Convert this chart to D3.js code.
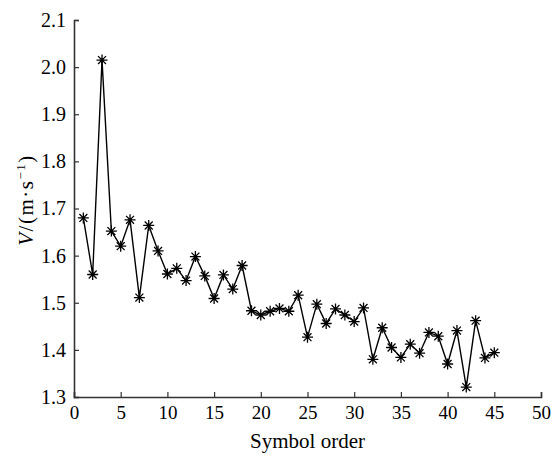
<!DOCTYPE html>
<html>
<head>
<meta charset="utf-8">
<script src="https://cdn.jsdelivr.net/npm/d3@7"></script>
<style>
  body { margin: 0; background: #fff; }
  text { font-family: "Liberation Serif", "Times New Roman", serif; fill: #000; }
</style>
</head>
<body>
<svg id="chart" width="557" height="458"></svg>
<script>
// symbol order 1..45 and measured velocity
var order = d3.range(1, 46);
var velocity = [1.680, 1.560, 2.015, 1.652, 1.620, 1.676, 1.511, 1.664, 1.610, 1.561,
                1.573, 1.547, 1.598, 1.557, 1.509, 1.559, 1.529, 1.579, 1.483, 1.474,
                1.482, 1.488, 1.482, 1.516, 1.427, 1.497, 1.456, 1.487, 1.474, 1.460,
                1.489, 1.380, 1.447, 1.405, 1.384, 1.412, 1.393, 1.437, 1.429, 1.370,
                1.441, 1.321, 1.462, 1.383, 1.394];
var xTicks = [0, 5, 10, 15, 20, 25, 30, 35, 40, 45, 50];
var yTicks = [1.3, 1.4, 1.5, 1.6, 1.7, 1.8, 1.9, 2.0, 2.1];

var margin = {left: 74, right: 16, top: 20, bottom: 61};
var width = 557, height = 458;

var svg = d3.select("#chart");

var x = d3.scaleLinear()
		.domain([0, 50])
		.range([margin.left, width - margin.right]);

var y = d3.scaleLinear()
		.domain([1.3, 2.1])
		.range([height - margin.bottom, margin.top]);

// axes, ticks pointing inward
var xAxis = svg.append("g")
		.attr("transform", "translate(0," + y(1.3) + ")")
		.call(d3.axisBottom(x).tickValues(xTicks).tickSize(-5).tickPadding(9)
				.tickFormat(d3.format("d")));

var yAxis = svg.append("g")
		.attr("transform", "translate(" + x(0) + ",0)")
		.call(d3.axisLeft(y).tickValues(yTicks).tickSize(-5).tickPadding(8)
				.tickFormat(d3.format(".1f")));

xAxis.attr("font-family", "'Liberation Serif', serif").attr("font-size", 19);
yAxis.attr("font-family", "'Liberation Serif', serif").attr("font-size", 20);

[xAxis, yAxis].forEach(function(a) {
	a.select(".domain").attr("stroke", "#333").attr("stroke-width", 1.6);
	a.selectAll(".tick line").attr("stroke", "#333").attr("stroke-width", 1.2);
	a.selectAll(".tick text").attr("fill", "#000");
});

// series line
var line = d3.line()
		.x(function(d, i) { return x(order[i]); })
		.y(function(d) { return y(d); });

svg.append("path")
	.datum(velocity)
	.attr("d", line)
	.attr("fill", "none")
	.attr("stroke", "#000")
	.attr("stroke-width", 1.4);

// asterisk markers
var r = 5.5, rd = r * 0.72;
var star = "M" + (-r) + ",0H" + r + "M0," + (-r) + "V" + r +
		   "M" + (-rd) + "," + (-rd) + "L" + rd + "," + rd +
		   "M" + (-rd) + "," + rd + "L" + rd + "," + (-rd);

svg.append("g")
	.selectAll("path")
	.data(velocity)
	.enter().append("path")
	.attr("transform", function(d, i) { return "translate(" + x(order[i]) + "," + y(d) + ")"; })
	.attr("d", star)
	.attr("fill", "none")
	.attr("stroke", "#000")
	.attr("stroke-width", 1.3);

// axis titles
svg.append("text")
	.attr("x", (x(0) + x(50)) / 2)
	.attr("y", 448)
	.attr("text-anchor", "middle")
	.style("font-size", "21px")
	.text("Symbol order");

var yt = svg.append("text")
	.attr("transform", "translate(33,200) rotate(-90)")
	.attr("text-anchor", "middle")
	.style("font-size", "21px")
	.style("letter-spacing", "1.5px");
yt.append("tspan").style("font-style", "italic").text("V");
yt.append("tspan").text("/(m·s");
yt.append("tspan").attr("dy", -8).style("font-size", "13px").text("−1");
yt.append("tspan").attr("dy", 8).text(")");
</script>
</body>
</html>
